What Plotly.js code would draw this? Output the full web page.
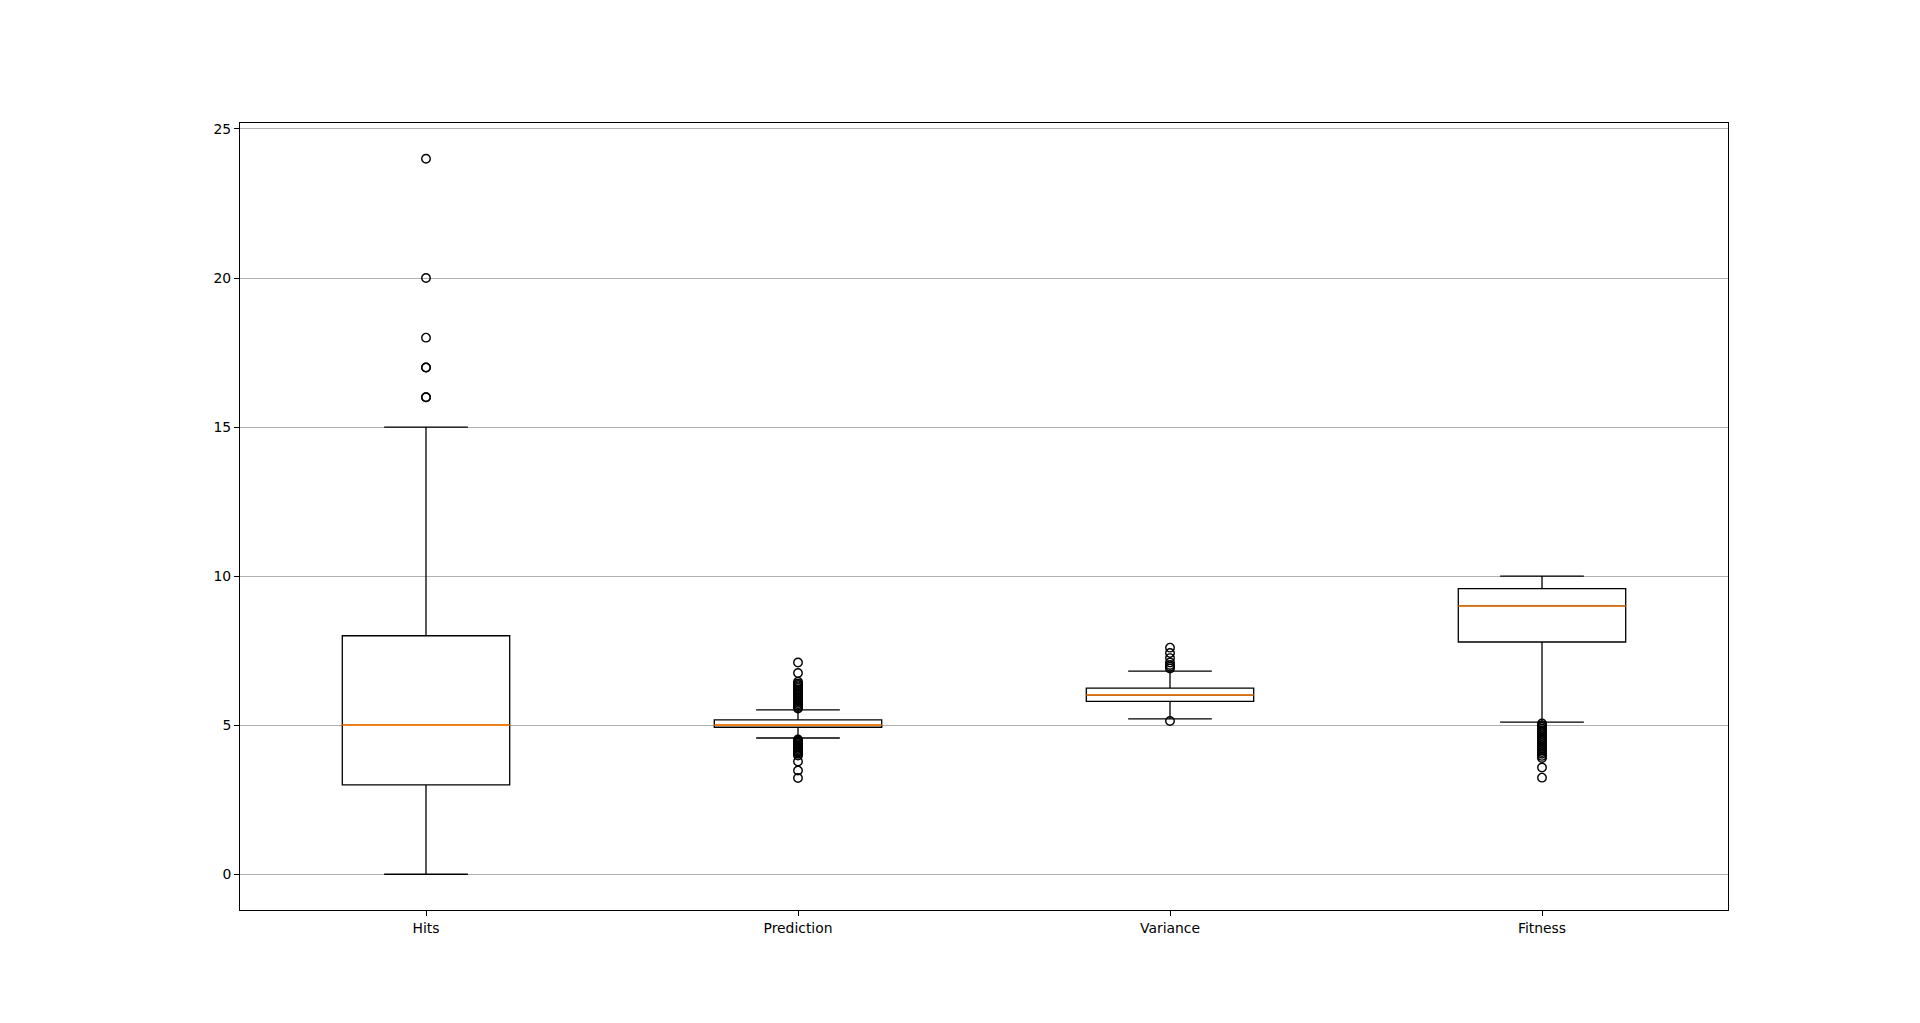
<!DOCTYPE html>
<html>
<head>
<meta charset="utf-8">
<script src="https://cdn.plot.ly/plotly-3.0.1.min.js"></script>
<style>html,body{margin:0;padding:0;background:#fff;}#chart{width:1920px;height:1023px;}</style>
</head>
<body>
<div id="chart"></div>
<script>
// Data
const categories = ["Hits", "Prediction", "Variance", "Fitness"];
const positions = [1, 2, 3, 4];
const q1 = [3.0, 4.93, 5.80, 7.79];
const medians = [5.0, 5.00, 6.01, 9.0];
const q3 = [8.0, 5.18, 6.24, 9.58];
const lowerWhisker = [0.0, 4.57, 5.21, 5.10];
const upperWhisker = [15.0, 5.51, 6.81, 10.0];

const hitsOutliers = [24, 20, 18, 17, 17, 16, 16];
const predictionOutliers = [7.1, 6.75, 6.46, 6.4, 6.35, 6.3, 6.25, 6.2, 6.15, 6.1, 6.05, 6.0, 5.95, 5.9, 5.85, 5.8, 5.75, 5.7, 5.65, 5.6, 5.56,
  4.52, 4.48, 4.44, 4.4, 4.36, 4.32, 4.28, 4.24, 4.2, 4.16, 4.12, 4.08, 4.04, 3.98, 3.78, 3.48, 3.23];
const varianceOutliers = [7.6, 7.42, 7.25, 7.1, 7.02, 6.96, 6.9, 5.14];
const fitnessOutliers = [5.06, 5.0, 4.94, 4.88, 4.82, 4.76, 4.7, 4.64, 4.58, 4.52, 4.46, 4.4, 4.34, 4.28, 4.22, 4.16, 4.1, 4.04, 3.97, 3.9, 3.58, 3.24];
const outlierSets = [hitsOutliers, predictionOutliers, varianceOutliers, fitnessOutliers];

const boxWidth = 0.45;

const traces = [];
categories.forEach((c, i) => {
  traces.push({
    type: 'box',
    name: c,
    x: [positions[i]],
    q1: [q1[i]],
    median: [medians[i]],
    q3: [q3[i]],
    lowerfence: [lowerWhisker[i]],
    upperfence: [upperWhisker[i]],
    boxpoints: false,
    width: boxWidth,
    whiskerwidth: 0.5,
    fillcolor: 'rgba(255,255,255,0)',
    line: {color: '#000000', width: 1.3},
    hoverinfo: 'skip'
  });
});

const ox = [], oy = [];
outlierSets.forEach((set, i) => {
  set.forEach(v => { ox.push(positions[i]); oy.push(v); });
});
traces.push({
  type: 'scatter',
  mode: 'markers',
  x: ox,
  y: oy,
  marker: {symbol: 'circle-open', size: 8.5, color: '#000000', line: {width: 1.4, color: '#000000'}},
  hoverinfo: 'skip'
});

const shapes = medians.map((m, i) => ({
  type: 'line', xref: 'x', yref: 'y',
  x0: positions[i] - boxWidth / 2, x1: positions[i] + boxWidth / 2,
  y0: m, y1: m,
  line: {color: '#ff7f0e', width: 1.6},
  layer: 'above'
}));

const layout = {
  width: 1920,
  height: 1023,
  margin: {l: 240, r: 192, t: 123, b: 113, pad: 0},
  paper_bgcolor: '#ffffff',
  plot_bgcolor: '#ffffff',
  showlegend: false,
  hovermode: false,
  font: {family: 'DejaVu Sans', size: 13.9, color: '#000000'},
  xaxis: {
    type: 'linear',
    range: [0.5, 4.5],
    tickvals: positions,
    ticktext: categories,
    showgrid: false,
    zeroline: false,
    showline: true,
    mirror: true,
    linecolor: '#000000',
    linewidth: 1,
    ticks: 'outside',
    ticklen: 5,
    tickwidth: 1,
    tickcolor: '#000000'
  },
  yaxis: {
    range: [-1.2, 25.2],
    tickvals: [0, 5, 10, 15, 20, 25],
    ticktext: ['0', '5', '10', '15', '20', '25'],
    showgrid: true,
    gridcolor: '#b0b0b0',
    gridwidth: 1,
    zeroline: false,
    showline: true,
    mirror: true,
    linecolor: '#000000',
    linewidth: 1,
    ticks: 'outside',
    ticklen: 5,
    tickwidth: 1,
    tickcolor: '#000000'
  },
  shapes: shapes
};

Plotly.newPlot('chart', traces, layout, {displayModeBar: false, staticPlot: true});
</script>
</body>
</html>
